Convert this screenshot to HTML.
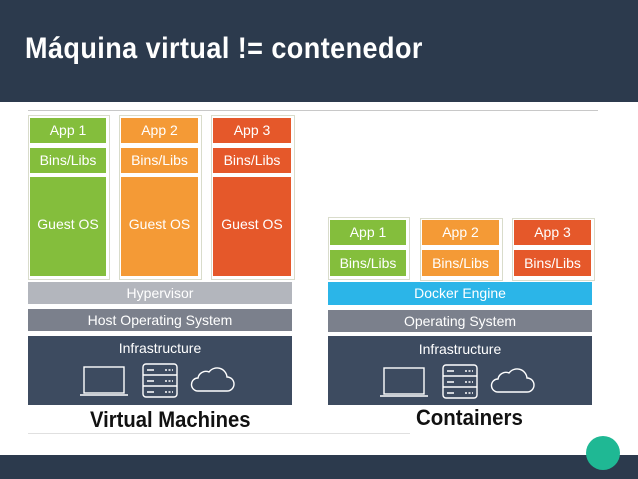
<!DOCTYPE html>
<html><head><meta charset="utf-8"><style>
body{margin:0;width:638px;height:479px;position:relative;background:#fff;overflow:hidden;font-family:"Liberation Sans",sans-serif}
.a{position:absolute;box-sizing:border-box;color:#fff;text-align:center;font-size:14px}
.o{position:absolute;border:1px solid #d9dccb;background:#fff}
</style></head><body>
<div class="a" style="left:0;top:0;width:638px;height:102px;background:#2c3a4d"></div>
<div class="a" style="left:25px;top:32px;font-size:30px;font-weight:bold;text-align:left;transform:scaleX(0.9);transform-origin:left;letter-spacing:0.5px">Máquina virtual != contenedor</div>
<div class="a" style="left:28px;top:110px;width:570px;height:1px;background:#c8c8c8"></div>
<div class="a" style="left:28px;top:433px;width:382px;height:1px;background:#e0e0e0"></div>

<div class="o" style="left:28px;top:115px;width:80px;height:163px"></div>
<div class="o" style="left:119px;top:115px;width:81px;height:163px"></div>
<div class="o" style="left:211px;top:115px;width:82px;height:163px"></div>
<div class="a" style="left:30px;top:118px;width:76px;height:25px;line-height:25px;background:#84be3c">App 1</div>
<div class="a" style="left:30px;top:148px;width:76px;height:25px;line-height:25px;background:#84be3c">Bins/Libs</div>
<div class="a" style="left:30px;top:177px;width:76px;height:99px;line-height:95px;background:#84be3c">Guest OS</div>
<div class="a" style="left:121px;top:118px;width:77px;height:25px;line-height:25px;background:#f49a36">App 2</div>
<div class="a" style="left:121px;top:148px;width:77px;height:25px;line-height:25px;background:#f49a36">Bins/Libs</div>
<div class="a" style="left:121px;top:177px;width:77px;height:99px;line-height:95px;background:#f49a36">Guest OS</div>
<div class="a" style="left:213px;top:118px;width:78px;height:25px;line-height:25px;background:#e5582a">App 3</div>
<div class="a" style="left:213px;top:148px;width:78px;height:25px;line-height:25px;background:#e5582a">Bins/Libs</div>
<div class="a" style="left:213px;top:177px;width:78px;height:99px;line-height:95px;background:#e5582a">Guest OS</div>
<div class="a" style="left:28px;top:282px;width:264px;height:22px;line-height:22px;background:#b3b6bd">Hypervisor</div>
<div class="a" style="left:28px;top:309px;width:264px;height:22px;line-height:22px;background:#7b808c">Host Operating System</div>
<div class="a" style="left:28px;top:336px;width:264px;height:69px;padding-top:4px;background:#3d4b60">Infrastructure</div>
<div class="a" style="left:90px;top:407px;color:#111;font-size:22px;font-weight:bold;transform:scaleX(0.92);transform-origin:left">Virtual Machines</div>

<div class="o" style="left:328px;top:217px;width:80px;height:61px"></div>
<div class="o" style="left:420px;top:218px;width:81px;height:61px"></div>
<div class="o" style="left:512px;top:218px;width:81px;height:61px"></div>
<div class="a" style="left:330px;top:220px;width:76px;height:25px;line-height:25px;background:#84be3c">App 1</div>
<div class="a" style="left:330px;top:250px;width:76px;height:26px;line-height:26px;background:#84be3c">Bins/Libs</div>
<div class="a" style="left:422px;top:220px;width:77px;height:25px;line-height:25px;background:#f49a36">App 2</div>
<div class="a" style="left:422px;top:250px;width:77px;height:26px;line-height:26px;background:#f49a36">Bins/Libs</div>
<div class="a" style="left:514px;top:220px;width:77px;height:25px;line-height:25px;background:#e5582a">App 3</div>
<div class="a" style="left:514px;top:250px;width:77px;height:26px;line-height:26px;background:#e5582a">Bins/Libs</div>
<div class="a" style="left:328px;top:282px;width:264px;height:23px;line-height:23px;background:#2bb5e8">Docker Engine</div>
<div class="a" style="left:328px;top:310px;width:264px;height:22px;line-height:22px;background:#7b808c">Operating System</div>
<div class="a" style="left:328px;top:336px;width:264px;height:69px;padding-top:5px;background:#3d4b60">Infrastructure</div>
<div class="a" style="left:416px;top:405px;color:#111;font-size:22px;font-weight:bold;transform:scaleX(0.93);transform-origin:left">Containers</div>

<svg width="638" height="479" style="position:absolute;left:0;top:0">
<defs><g id="ic" fill="none" stroke="#fff" stroke-width="1.4">
<rect x="4" y="0" width="40" height="26"/><path d="M0 28 H48"/>
<rect x="63" y="-3" width="34" height="33" rx="3"/><path d="M63 8H97M63 19H97M67 3H74M67 14H74M67 25H74"/>
<path d="M85 3h8M85 14h8M85 25h8" stroke-dasharray="2 1.5"/>
<path d="M118 24 H147 a7 7 0 0 0 0-14 a10 10 0 0 0-18-5 a8 8 0 0 0-11 6 a6.5 6.5 0 0 0 0 13z"/>
</g></defs>
<use href="#ic" x="80" y="367"/>
<use href="#ic" x="380" y="368"/>
<rect x="0" y="455" width="638" height="24" fill="#2c3a4d"/>
<circle cx="603" cy="453" r="17" fill="#1fb894"/>
</svg>
</body></html>
